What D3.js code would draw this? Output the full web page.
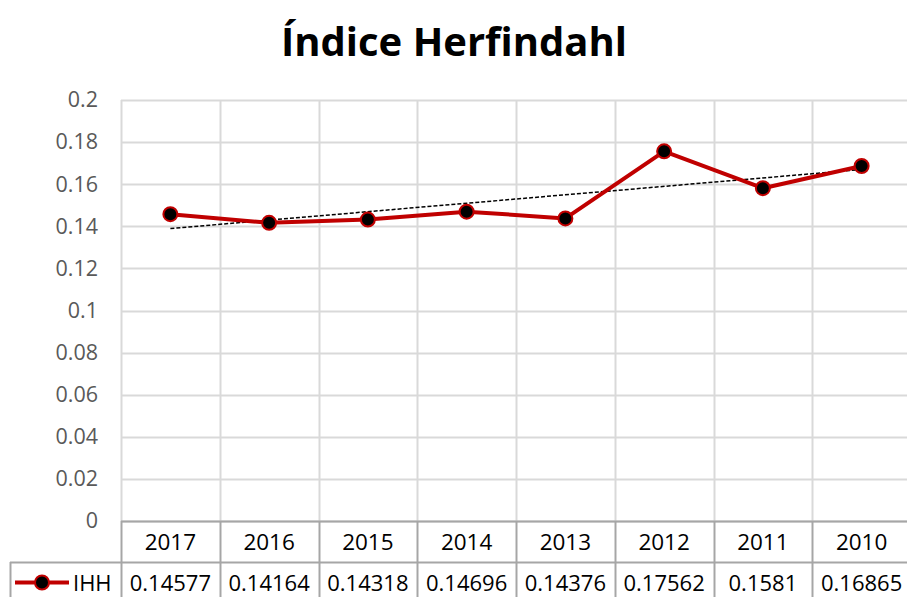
<!DOCTYPE html>
<html>
<head>
<meta charset="utf-8">
<script src="https://cdn.jsdelivr.net/npm/d3@7"></script>
<style>
  body { margin: 0; background: #fff; }
  svg { display: block; font-family: "Open Sans", sans-serif; }
</style>
</head>
<body>
<svg id="chart" width="907" height="597"></svg>
<script>
var years = ["2017", "2016", "2015", "2014", "2013", "2012", "2011", "2010"];
var ihh = [0.14577, 0.14164, 0.14318, 0.14696, 0.14376, 0.17562, 0.1581, 0.16865];
var ihhLabels = ["0.14577", "0.14164", "0.14318", "0.14696", "0.14376", "0.17562", "0.1581", "0.16865"];
var yTicks = [0, 0.02, 0.04, 0.06, 0.08, 0.1, 0.12, 0.14, 0.16, 0.18, 0.2];
var seriesName = "IHH";
var title = "Índice Herfindahl";

var svg = d3.select("#chart");
var margin = {top: 100, left: 121, right: -4, bottom: 76};
var W = 907, H = 597;
var width = W - margin.left - margin.right;
var height = H - margin.top - margin.bottom;
var RED = "#c00000";
var GRID = "#d9d9d9";
var TBL = "#a6a6a6";

svg.append("text")
  .attr("x", 454).attr("y", 56)
  .attr("text-anchor", "middle")
  .style("font-size", "40px").style("font-weight", "bold")
  .text(title);

var x = d3.scaleBand().domain(years).range([0, width]);
var y = d3.scaleLinear().domain([0, 0.2]).range([height, 0]);

var g = svg.append("g").attr("transform", "translate(" + margin.left + "," + margin.top + ")");

// horizontal gridlines
g.selectAll(".hgrid").data(yTicks).enter().append("line")
  .attr("x1", 0).attr("x2", width)
  .attr("y1", function (d) { return Math.round(y(d)) + 0.5; })
  .attr("y2", function (d) { return Math.round(y(d)) + 0.5; })
  .attr("stroke", GRID).attr("stroke-width", 2);

// vertical gridlines
var edges = years.map(function (d) { return x(d); }).concat([width]);
g.selectAll(".vgrid").data(edges).enter().append("line")
  .attr("x1", function (d) { return Math.round(d) + 0.5; })
  .attr("x2", function (d) { return Math.round(d) + 0.5; })
  .attr("y1", 0).attr("y2", height)
  .attr("stroke", GRID).attr("stroke-width", 2);

// y axis labels
g.append("g")
  .call(d3.axisLeft(y).tickValues(yTicks).tickSize(0).tickPadding(23).tickFormat(function (d) { return String(d); }))
  .call(function (s) { s.select(".domain").remove(); })
  .selectAll("text")
  .attr("fill", "#595959")
  .style("font-family", "Open Sans, sans-serif")
  .style("font-size", "21.5px");

// trendline (least squares)
var n = ihh.length;
var mx = (n + 1) / 2, my = d3.mean(ihh);
var sxy = 0, sxx = 0;
ihh.forEach(function (v, i) { sxy += (i + 1 - mx) * (v - my); sxx += (i + 1 - mx) * (i + 1 - mx); });
var slope = sxy / sxx, icpt = my - slope * mx;
g.append("line")
  .attr("x1", x(years[0]) + x.bandwidth() / 2)
  .attr("x2", x(years[n - 1]) + x.bandwidth() / 2)
  .attr("y1", y(icpt + slope * 1))
  .attr("y2", y(icpt + slope * n))
  .attr("stroke", "#000").attr("stroke-width", 1.5)
  .attr("stroke-dasharray", "4,2");

var line = d3.line()
  .x(function (d, i) { return x(years[i]) + x.bandwidth() / 2; })
  .y(function (d) { return y(d); });

g.append("path").datum(ihh)
  .attr("fill", "none").attr("stroke", RED)
  .attr("stroke-width", 4).attr("stroke-linejoin", "round")
  .attr("d", line);

g.selectAll(".pt").data(ihh).enter().append("circle")
  .attr("cx", function (d, i) { return x(years[i]) + x.bandwidth() / 2; })
  .attr("cy", function (d) { return y(d); })
  .attr("r", 7)
  .attr("fill", "#000").attr("stroke", RED).attr("stroke-width", 2);

// data table
var rowH = 41;
var t = g.append("g").attr("transform", "translate(0," + height + ")");
t.selectAll(".vcell").data(edges).enter().append("line")
  .attr("x1", function (d) { return Math.round(d) + 0.5; })
  .attr("x2", function (d) { return Math.round(d) + 0.5; })
  .attr("y1", 0).attr("y2", rowH * 2)
  .attr("stroke", TBL).attr("stroke-width", 2);
t.append("line").attr("x1", 0).attr("x2", width).attr("y1", 0.5).attr("y2", 0.5)
  .attr("stroke", TBL).attr("stroke-width", 2);
t.append("line").attr("x1", -111).attr("x2", width).attr("y1", rowH + 0.5).attr("y2", rowH + 0.5)
  .attr("stroke", TBL).attr("stroke-width", 2);
t.append("line").attr("x1", -110.5).attr("x2", -110.5).attr("y1", rowH).attr("y2", rowH * 2)
  .attr("stroke", TBL).attr("stroke-width", 2);

t.selectAll(".yr").data(years).enter().append("text")
  .attr("x", function (d) { return x(d) + x.bandwidth() / 2; })
  .attr("y", rowH / 2 + 8)
  .attr("text-anchor", "middle")
  .style("font-size", "22.5px")
  .text(function (d) { return d; });

t.selectAll(".val").data(ihhLabels).enter().append("text")
  .attr("x", function (d, i) { return x(years[i]) + x.bandwidth() / 2; })
  .attr("y", rowH + rowH / 2 + 8)
  .attr("text-anchor", "middle")
  .style("font-size", "22px")
  .text(function (d) { return d; });

// legend key inside table
var ly = rowH + rowH / 2;
t.append("line").attr("x1", -106).attr("x2", -52).attr("y1", ly).attr("y2", ly)
  .attr("stroke", RED).attr("stroke-width", 4);
t.append("circle").attr("cx", -79).attr("cy", ly).attr("r", 7)
  .attr("fill", "#000").attr("stroke", RED).attr("stroke-width", 2);
t.append("text").attr("x", -48).attr("y", ly + 8)
  .style("font-size", "22px").text(seriesName);
</script>
</body>
</html>
